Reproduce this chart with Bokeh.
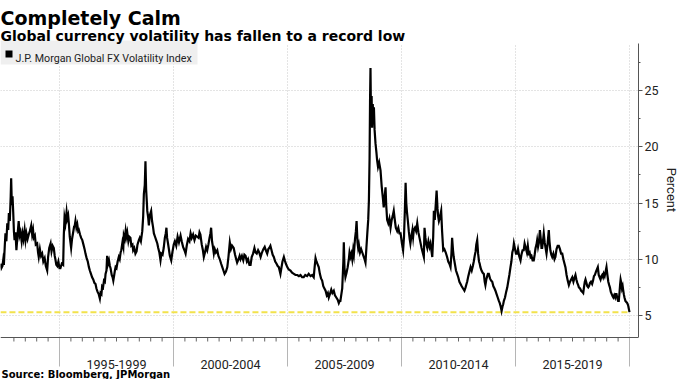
from bokeh.plotting import figure
from bokeh.models import Range1d, FixedTicker, Label, BoxAnnotation, Span
from bokeh.embed import file_html
from bokeh.resources import INLINE

title_text = "Completely Calm"
subtitle_text = "Global currency volatility has fallen to a record low"
source_text = "Source: Bloomberg, JPMorgan"
series_name = "J.P. Morgan Global FX Volatility Index"
y_axis_title = "Percent"

period_labels = ["1995-1999", "2000-2004", "2005-2009", "2010-2014", "2015-2019"]
period_bounds = [1995, 2000, 2005, 2010, 2015, 2020]
y_ticks = [5, 10, 15, 20, 25]
y_minor_ticks = [5, 7.5, 10, 12.5, 15, 17.5, 20, 22.5, 25, 27.5]
half_year_ticks = [1993 + 0.5 * k for k in range(56)]

years = [
    1992.41, 1992.45, 1992.50, 1992.53, 1992.56, 1992.60, 1992.63, 1992.67, 1992.71, 1992.75,
    1992.78, 1992.82, 1992.86, 1992.88, 1992.91, 1992.94, 1992.97, 1993.00, 1993.03, 1993.07,
    1993.11, 1993.15, 1993.21, 1993.25, 1993.29, 1993.34, 1993.38, 1993.42, 1993.47, 1993.51,
    1993.55, 1993.60, 1993.65, 1993.70, 1993.76, 1993.80, 1993.84, 1993.87, 1993.92, 1993.96,
    1994.02, 1994.06, 1994.09, 1994.14, 1994.19, 1994.24, 1994.29, 1994.35, 1994.40, 1994.46,
    1994.50, 1994.55, 1994.61, 1994.65, 1994.70, 1994.75, 1994.79, 1994.82, 1994.86, 1994.90,
    1994.95, 1995.00, 1995.04, 1995.10, 1995.16, 1995.19, 1995.22, 1995.26, 1995.31, 1995.34,
    1995.38, 1995.41, 1995.45, 1995.48, 1995.51, 1995.55, 1995.60, 1995.64, 1995.67, 1995.70,
    1995.74, 1995.78, 1995.82, 1995.85, 1995.90, 1995.95, 1996.00, 1996.05, 1996.10, 1996.14,
    1996.19, 1996.24, 1996.29, 1996.33, 1996.38, 1996.43, 1996.48, 1996.53, 1996.58, 1996.62,
    1996.67, 1996.72, 1996.77, 1996.80, 1996.84, 1996.87, 1996.91, 1996.95, 1996.99, 1997.02,
    1997.06, 1997.09, 1997.13, 1997.17, 1997.21, 1997.24, 1997.29, 1997.33, 1997.36, 1997.40,
    1997.43, 1997.46, 1997.50, 1997.55, 1997.60, 1997.64, 1997.68, 1997.71, 1997.76, 1997.80,
    1997.82, 1997.86, 1997.90, 1997.93, 1997.97, 1998.02, 1998.06, 1998.11, 1998.15, 1998.20,
    1998.23, 1998.28, 1998.33, 1998.38, 1998.42, 1998.48, 1998.52, 1998.57, 1998.63, 1998.67,
    1998.70, 1998.74, 1998.77, 1998.80, 1998.83, 1998.85, 1998.89, 1998.92, 1998.96, 1999.02,
    1999.06, 1999.10, 1999.14, 1999.19, 1999.24, 1999.29, 1999.33, 1999.38, 1999.43, 1999.47,
    1999.52, 1999.57, 1999.62, 1999.66, 1999.69, 1999.72, 1999.76, 1999.79, 1999.84, 1999.90,
    1999.95, 2000.01, 2000.06, 2000.12, 2000.18, 2000.24, 2000.31, 2000.36, 2000.42, 2000.48,
    2000.53, 2000.58, 2000.64, 2000.70, 2000.75, 2000.80, 2000.86, 2000.92, 2000.98, 2001.04,
    2001.10, 2001.14, 2001.18, 2001.24, 2001.29, 2001.33, 2001.38, 2001.43, 2001.48, 2001.53,
    2001.58, 2001.62, 2001.65, 2001.69, 2001.73, 2001.77, 2001.81, 2001.86, 2001.92, 2001.97,
    2002.03, 2002.09, 2002.14, 2002.19, 2002.24, 2002.30, 2002.36, 2002.41, 2002.47, 2002.52,
    2002.57, 2002.64, 2002.70, 2002.75, 2002.79, 2002.85, 2002.90, 2002.94, 2003.00, 2003.06,
    2003.11, 2003.16, 2003.22, 2003.27, 2003.33, 2003.38, 2003.43, 2003.49, 2003.55, 2003.60,
    2003.65, 2003.71, 2003.76, 2003.82, 2003.88, 2003.94, 2004.00, 2004.05, 2004.11, 2004.16,
    2004.20, 2004.25, 2004.30, 2004.35, 2004.40, 2004.46, 2004.52, 2004.57, 2004.62, 2004.69,
    2004.73, 2004.78, 2004.84, 2004.88, 2004.93, 2004.99, 2005.05, 2005.13, 2005.20, 2005.28,
    2005.35, 2005.43, 2005.50, 2005.57, 2005.64, 2005.71, 2005.78, 2005.86, 2005.93, 2006.01,
    2006.08, 2006.15, 2006.19, 2006.23, 2006.27, 2006.33, 2006.37, 2006.42, 2006.47, 2006.52,
    2006.57, 2006.62, 2006.67, 2006.72, 2006.77, 2006.81, 2006.86, 2006.92, 2006.97, 2007.03,
    2007.08, 2007.14, 2007.20, 2007.25, 2007.29, 2007.32, 2007.40, 2007.45, 2007.47, 2007.50,
    2007.54, 2007.59, 2007.64, 2007.69, 2007.72, 2007.76, 2007.80, 2007.84, 2007.88, 2007.91,
    2007.96, 2008.00, 2008.03, 2008.07, 2008.10, 2008.13, 2008.18, 2008.23, 2008.28, 2008.33,
    2008.38, 2008.42, 2008.46, 2008.50, 2008.54, 2008.57, 2008.60, 2008.62, 2008.64, 2008.66,
    2008.69, 2008.71, 2008.74, 2008.77, 2008.79, 2008.82, 2008.86, 2008.90, 2008.93, 2008.97,
    2009.02, 2009.08, 2009.13, 2009.18, 2009.22, 2009.26, 2009.30, 2009.33, 2009.37, 2009.42,
    2009.47, 2009.52, 2009.57, 2009.62, 2009.66, 2009.70, 2009.75, 2009.81, 2009.86, 2009.91,
    2009.96, 2010.02, 2010.07, 2010.11, 2010.15, 2010.18, 2010.21, 2010.24, 2010.28, 2010.32,
    2010.36, 2010.39, 2010.43, 2010.48, 2010.51, 2010.54, 2010.59, 2010.64, 2010.69, 2010.74,
    2010.79, 2010.83, 2010.88, 2010.93, 2010.98, 2011.01, 2011.05, 2011.09, 2011.13, 2011.18,
    2011.23, 2011.27, 2011.31, 2011.35, 2011.39, 2011.42, 2011.46, 2011.50, 2011.54, 2011.58,
    2011.61, 2011.64, 2011.68, 2011.71, 2011.74, 2011.78, 2011.83, 2011.88, 2011.94, 2012.00,
    2012.05, 2012.10, 2012.15, 2012.19, 2012.22, 2012.26, 2012.29, 2012.34, 2012.39, 2012.44,
    2012.49, 2012.54, 2012.59, 2012.64, 2012.70, 2012.76, 2012.81, 2012.85, 2012.88, 2012.93,
    2012.98, 2013.03, 2013.08, 2013.13, 2013.17, 2013.21, 2013.25, 2013.28, 2013.32, 2013.36,
    2013.40, 2013.43, 2013.46, 2013.51, 2013.56, 2013.61, 2013.65, 2013.68, 2013.72, 2013.76,
    2013.79, 2013.83, 2013.88, 2013.93, 2013.98, 2014.03, 2014.08, 2014.12, 2014.17, 2014.22,
    2014.27, 2014.31, 2014.35, 2014.39, 2014.43, 2014.46, 2014.49, 2014.54, 2014.59, 2014.64,
    2014.68, 2014.73, 2014.78, 2014.82, 2014.86, 2014.90, 2014.93, 2014.97, 2015.02, 2015.07,
    2015.11, 2015.16, 2015.22, 2015.26, 2015.31, 2015.36, 2015.40, 2015.45, 2015.50, 2015.54,
    2015.58, 2015.62, 2015.66, 2015.70, 2015.75, 2015.80, 2015.84, 2015.88, 2015.92, 2015.95,
    2015.99, 2016.03, 2016.07, 2016.11, 2016.14, 2016.17, 2016.21, 2016.24, 2016.28, 2016.32,
    2016.36, 2016.40, 2016.43, 2016.46, 2016.49, 2016.53, 2016.57, 2016.61, 2016.66, 2016.71,
    2016.75, 2016.80, 2016.85, 2016.90, 2016.95, 2017.00, 2017.05, 2017.10, 2017.15, 2017.19,
    2017.24, 2017.29, 2017.34, 2017.39, 2017.44, 2017.49, 2017.54, 2017.58, 2017.63, 2017.67,
    2017.71, 2017.75, 2017.78, 2017.83, 2017.88, 2017.93, 2017.97, 2018.01, 2018.04, 2018.07,
    2018.11, 2018.15, 2018.19, 2018.22, 2018.27, 2018.31, 2018.36, 2018.40, 2018.44, 2018.48,
    2018.53, 2018.57, 2018.61, 2018.65, 2018.69, 2018.73, 2018.77, 2018.80, 2018.84, 2018.87,
    2018.91, 2018.95, 2018.99, 2019.03, 2019.07, 2019.11, 2019.14, 2019.18, 2019.22, 2019.26,
    2019.29, 2019.33, 2019.37, 2019.40, 2019.43, 2019.47, 2019.50, 2019.53, 2019.56, 2019.59,
    2019.61, 2019.64, 2019.67, 2019.70, 2019.72, 2019.75, 2019.78, 2019.82, 2019.86, 2019.90,
    2019.94, 2019.97, 2020.00,
]

vol = [
    9.6, 9.2, 9.4, 9.9, 9.5, 11.2, 12.3, 11.6, 13.2, 12.6,
    14.1, 13.4, 15.6, 17.2, 14.8, 15.6, 14.2, 12.5, 11.7, 12.4,
    10.8, 11.9, 13.4, 12.1, 12.4, 11.6, 12.3, 11.8, 12.6, 11.7,
    12.3, 11.8, 12.2, 12.5, 13.0, 12.2, 12.6, 11.9, 12.1, 11.3,
    11.4, 10.6, 10.2, 10.9, 10.3, 10.5, 9.8, 10.1, 9.4, 9.0,
    10.2, 11.0, 11.4, 10.7, 11.2, 11.0, 10.3, 10.0, 9.5, 9.4,
    9.8, 9.2, 9.2, 9.6, 9.5, 12.2, 13.7, 13.2, 14.2, 13.6,
    13.9, 13.2, 12.0, 11.5, 11.0, 11.8, 12.4, 12.9, 13.0, 13.4,
    12.8, 13.1, 12.5, 12.6, 12.2, 11.9, 11.7, 11.3, 10.9, 10.5,
    10.1, 9.8, 9.3, 9.0, 8.7, 8.4, 8.2, 7.9, 7.8, 7.4,
    7.1, 6.9, 6.5, 7.0, 6.9, 7.6, 7.5, 8.1, 8.0, 8.7,
    9.0, 10.3, 9.6, 9.9, 9.4, 9.2, 8.6, 8.4, 8.1, 8.6,
    9.0, 9.3, 9.2, 9.8, 10.2, 10.0, 10.6, 10.8, 11.5, 11.1,
    12.1, 11.8, 12.5, 12.0, 12.4, 11.6, 12.0, 11.9, 11.2, 11.3,
    10.8, 11.0, 10.5, 10.7, 11.3, 11.7, 11.9, 11.6, 12.5, 13.8,
    15.8, 16.6, 18.7, 16.2, 15.1, 14.3, 13.7, 13.0, 13.9, 14.3,
    13.4, 12.9, 12.3, 12.0, 11.7, 11.4, 11.0, 10.6, 9.9, 10.5,
    10.4, 11.0, 11.9, 12.3, 12.8, 11.9, 11.4, 11.0, 10.3, 9.9,
    10.6, 11.3, 11.6, 11.2, 12.0, 11.5, 12.1, 11.6, 11.1, 10.8,
    10.5, 11.2, 11.8, 11.6, 12.3, 11.9, 12.2, 11.7, 12.1, 12.0,
    11.9, 12.4, 12.2, 11.3, 10.8, 10.2, 10.6, 11.1, 10.8, 11.3,
    11.9, 12.3, 12.8, 11.6, 11.1, 10.5, 10.9, 10.6, 10.8, 10.3,
    10.0, 9.6, 9.3, 9.0, 8.7, 8.9, 9.3, 10.2, 11.5, 10.9,
    11.2, 11.0, 10.4, 10.0, 9.7, 10.0, 10.3, 10.0, 10.3, 9.9,
    10.4, 10.3, 9.8, 10.0, 9.5, 9.5, 10.2, 10.5, 11.0, 10.6,
    10.5, 10.8, 10.6, 10.2, 10.6, 10.9, 11.1, 10.8, 10.5, 10.9,
    11.0, 11.2, 10.8, 10.4, 10.2, 9.8, 9.6, 9.4, 9.3, 8.7,
    9.2, 9.8, 10.2, 9.9, 9.6, 9.3, 9.1, 9.0, 8.8, 8.7,
    8.6, 8.6, 8.5, 8.6, 8.4, 8.4, 8.6, 8.5, 8.7, 8.5,
    8.6, 8.4, 9.3, 10.1, 9.8, 9.5, 9.3, 8.7, 8.3, 8.1,
    7.6, 7.4, 7.2, 6.8, 7.0, 6.6, 6.9, 7.3, 7.0, 7.2,
    6.8, 6.6, 6.4, 6.1, 6.3, 6.3, 7.4, 9.8, 11.5, 9.2,
    8.4, 8.8, 9.3, 10.0, 10.6, 10.2, 10.5, 10.0, 10.8, 10.4,
    11.8, 12.5, 13.4, 11.5, 11.0, 11.3, 10.6, 10.9, 10.6, 10.3,
    10.0, 9.7, 11.0, 12.3, 13.5, 15.2, 19.0, 24.0, 27.0, 23.0,
    24.5, 21.7, 23.8, 22.0, 23.5, 21.5, 20.3, 19.5, 18.8, 18.2,
    18.6, 17.9, 16.5, 15.5, 14.6, 15.5, 16.4, 14.8, 13.5, 13.2,
    13.6, 12.8, 13.5, 13.9, 14.3, 13.6, 12.8, 12.5, 12.8, 12.3,
    12.3, 11.4, 10.8, 12.0, 14.5, 16.8, 15.0, 14.2, 13.4, 12.5,
    11.8, 11.4, 12.0, 12.6, 12.0, 12.6, 12.8, 12.5, 13.2, 12.4,
    11.9, 11.5, 11.0, 10.6, 10.2, 12.8, 11.9, 11.3, 11.0, 11.6,
    11.1, 11.4, 10.8, 10.2, 12.0, 14.3, 13.5, 14.8, 16.1, 14.5,
    13.8, 13.4, 13.7, 14.0, 14.3, 12.5, 10.8, 10.9, 10.6, 10.2,
    9.8, 9.6, 9.3, 10.5, 11.9, 10.8, 10.2, 9.6, 9.0, 8.7,
    8.4, 8.0, 7.8, 7.6, 7.4, 7.2, 7.5, 7.8, 8.0, 8.5,
    8.9, 9.3, 9.0, 9.4, 9.8, 10.3, 10.7, 11.3, 11.7, 10.5,
    9.8, 9.6, 9.3, 9.0, 8.8, 8.7, 8.0, 7.7, 8.2, 8.5,
    8.7, 8.7, 8.3, 8.1, 8.0, 7.6, 7.4, 7.2, 6.9, 6.6,
    6.3, 6.1, 5.8, 5.4, 5.8, 6.0, 6.3, 6.6, 7.1, 7.5,
    8.0, 8.6, 9.3, 9.8, 10.6, 10.9, 11.4, 11.0, 10.5, 10.5,
    10.9, 10.3, 9.9, 10.4, 10.8, 10.8, 11.4, 11.0, 10.6, 11.2,
    10.5, 10.6, 10.2, 10.3, 9.9, 9.9, 10.4, 11.0, 11.3, 11.7,
    11.1, 11.5, 12.6, 11.8, 11.0, 11.0, 11.7, 12.3, 11.5, 11.0,
    10.5, 11.2, 11.9, 12.6, 11.6, 10.8, 10.4, 10.2, 10.5, 10.0,
    10.2, 10.9, 11.2, 11.2, 10.9, 10.5, 10.5, 10.0, 9.6, 9.3,
    8.6, 8.1, 7.7, 8.0, 8.2, 8.4, 8.0, 8.3, 8.6, 8.2,
    7.9, 7.7, 7.5, 7.4, 7.2, 7.1, 7.0, 7.6, 8.0, 8.2,
    7.9, 7.6, 7.5, 7.6, 7.9, 8.0, 7.8, 8.1, 8.5, 8.6,
    8.9, 9.1, 9.3, 8.6, 8.4, 8.2, 8.5, 8.6, 8.4, 8.7,
    8.5, 8.9, 9.3, 8.6, 8.0, 7.7, 7.5, 7.1, 6.9, 6.7,
    6.6, 6.8, 6.6, 6.9, 6.9, 6.5, 6.3, 6.3, 7.0, 7.8,
    8.2, 7.9, 7.4, 7.6, 7.3, 6.9, 6.6, 6.3, 6.2, 6.1,
    5.9, 5.6, 5.3,
]

# ---- layout (pixels) ----
FW, FH = 638, 379          # plot frame (x: 0..638, y: whole canvas height)
PX_PER_YEAR = 22.8
PX_PER_UNIT = 11.25
X0_PX = 59                 # pixel position of the first period boundary
Y5_PX = 315                # pixel row of the value 5
AXIS_TOP_PX, AXIS_BOTTOM_PX = 43, 337

def yval(py):
    return 5 + (Y5_PX - py) / PX_PER_UNIT

x_start = period_bounds[0] - X0_PX / PX_PER_YEAR
x_end = x_start + FW / PX_PER_YEAR
y_floor = yval(AXIS_BOTTOM_PX)
y_top = yval(AXIS_TOP_PX)

FONT = "Roboto"
BOLD = "DejaVu Sans"

p = figure(frame_width=FW, frame_height=FH, output_backend="svg", toolbar_location=None,
           x_range=Range1d(x_start, x_end), y_range=Range1d(yval(FH), yval(0)),
           min_border_left=0, min_border_right=0, min_border_top=0,
           min_border_bottom=0, y_axis_location="right", x_axis_location=None,
           outline_line_color=None, background_fill_color="white")

ya = p.yaxis[0]
ya.bounds = (y_floor, y_top)
ya.ticker = FixedTicker(ticks=y_ticks, minor_ticks=y_minor_ticks)
ya.axis_line_color = "#555555"
ya.major_tick_in = 0
ya.major_tick_out = 4
ya.minor_tick_in = 0
ya.minor_tick_out = 2
ya.major_tick_line_color = "#555555"
ya.minor_tick_line_color = "#555555"
ya.major_label_text_font = FONT
ya.major_label_text_font_size = "12.5px"
ya.major_label_text_color = "#222222"
ya.major_label_standoff = 2
ya.axis_label = y_axis_title
ya.axis_label_text_font = FONT
ya.axis_label_text_font_size = "13px"
ya.axis_label_text_font_style = "normal"
ya.axis_label_text_color = "#222222"
ya.axis_label_standoff = 2

p.xgrid.visible = False
p.ygrid.grid_line_color = "#c8c8c8"
p.ygrid.grid_line_dash = "1 2"

# vertical dotted grid lines at period boundaries
p.segment(x0=period_bounds, y0=[y_floor] * len(period_bounds), x1=period_bounds,
          y1=[y_top] * len(period_bounds), line_color="#c8c8c8", line_dash="1 2", line_width=1)

# custom bottom axis: line, half-year ticks, period separators
p.add_layout(Span(location=y_floor, dimension="width", line_color="#555555", line_width=1))
tick_len = 4 / PX_PER_UNIT
sep_len = 29 / PX_PER_UNIT
p.segment(x0=half_year_ticks, y0=[y_floor] * len(half_year_ticks), x1=half_year_ticks,
          y1=[y_floor - tick_len] * len(half_year_ticks), line_color="#666666", line_width=1)
p.segment(x0=period_bounds, y0=[y_floor] * len(period_bounds), x1=period_bounds,
          y1=[y_floor - sep_len] * len(period_bounds), line_color="#b5b5b5", line_width=1)

for lab, a, b in zip(period_labels, period_bounds[:-1], period_bounds[1:]):
    p.add_layout(Label(x=(a + b) / 2, y=FH - 364, x_units="data", y_units="screen",
                       text=lab, text_font=FONT, text_font_size="12.6px",
                       text_color="#222222", text_baseline="alphabetic",
                       text_align="center"))

record_low = min(vol)
p.line([years[0], years[-1]], [record_low, record_low], line_color="#f2e24c",
       line_width=2, line_dash="6 3")
p.line(years, vol, line_color="black", line_width=2.2, line_join="miter")

# legend (manual)
p.add_layout(BoxAnnotation(left=0, right=197, bottom=FH - 64, top=FH - 40,
                           left_units="screen", right_units="screen",
                           bottom_units="screen", top_units="screen",
                           fill_color="#efefef", fill_alpha=1.0, line_color=None))
p.add_layout(BoxAnnotation(left=5, right=12, bottom=FH - 57, top=FH - 50,
                           left_units="screen", right_units="screen",
                           bottom_units="screen", top_units="screen",
                           fill_color="black", fill_alpha=1.0, line_color=None))
p.add_layout(Label(x=15, y=FH - 57.5, x_units="screen", y_units="screen",
                   text=series_name, text_font=FONT, text_font_size="10.7px",
                   text_color="#222222", text_baseline="alphabetic", text_align="left"))

# titles and source
p.add_layout(Label(x=0, y=FH - 17, x_units="screen", y_units="screen",
                   text=title_text, text_font=BOLD, text_font_size="19px",
                   text_font_style="bold", text_color="black",
                   text_baseline="alphabetic", text_align="left"))
p.add_layout(Label(x=0, y=FH - 35, x_units="screen", y_units="screen",
                   text=subtitle_text, text_font=BOLD, text_font_size="14px",
                   text_font_style="bold", text_color="black",
                   text_baseline="alphabetic", text_align="left"))
p.add_layout(Label(x=1, y=FH - 374, x_units="screen", y_units="screen",
                   text=source_text, text_font=BOLD, text_font_size="10px",
                   text_font_style="bold", text_color="black",
                   text_baseline="alphabetic", text_align="left"))

open("out.html", "w").write(file_html(p, INLINE))
